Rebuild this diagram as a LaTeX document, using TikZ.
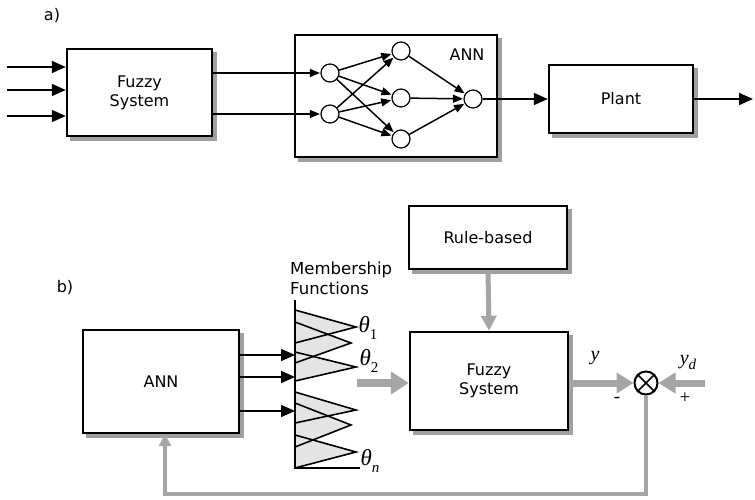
\documentclass[tikz,border=0pt]{standalone}
\usepackage[no-math]{fontspec}
\setmainfont{DejaVu Sans}
\newfontfamily\tms{Liberation Serif}
\usetikzlibrary{arrows.meta,calc}
\definecolor{arrgray}{RGB}{165,165,165}
\definecolor{mfgray}{RGB}{228,228,228}
\definecolor{shgray}{RGB}{160,160,160}
\pgfdeclarelayer{bg}
\pgfsetlayers{bg,main}
\newcommand{\boxshadow}[1]{%
  \begin{pgfonlayer}{bg}
    \fill[shgray] ($(#1.south west)+(4,4)$) rectangle ($(#1.north east)+(4,4)$);
  \end{pgfonlayer}}
\begin{document}
\begin{tikzpicture}[x=1pt,y=-1pt,
  box/.style={draw, line width=2.4pt, fill=white, inner sep=0pt, align=center,
    font=\fontsize{16}{19}\selectfont},
  neuron/.style={draw, circle, line width=1.2pt, fill=white, minimum size=18pt, inner sep=0pt},
  blk/.style={line width=1.8pt, -{Triangle[length=14pt,width=12pt]}},
  sml/.style={line width=1.5pt, shorten >=0.5pt, -{Triangle[length=10pt,width=8pt]}},
  garr/.style={draw=arrgray, line width=#1},
  lbl/.style={font=\fontsize{16}{19}\selectfont, inner sep=0pt},
  mathlbl/.style={font=\fontsize{23}{26}\selectfont\tms\itshape, inner sep=0pt},
  mfline/.style={line width=1.6pt, line join=miter}
]
\useasboundingbox (0,0) rectangle (755,500);

% ---------------- a) ----------------
\node[lbl] (la) at (52,15) {a)};
\node[box, minimum width=145pt, minimum height=87pt] (fuzzyA) at (139.5,92.5) {Fuzzy\\System};
\node[box, minimum width=202pt, minimum height=122pt] (annA) at (396,96) {};
\node[lbl] (annAlbl) at (467,55) {ANN};
\node[box, minimum width=144pt, minimum height=68pt] (plant) at (621,99) {Plant};
\boxshadow{fuzzyA}
\boxshadow{annA}
\boxshadow{plant}

\coordinate (x1) at (7,67);
\coordinate (x2) at (7,90);
\coordinate (x3) at (7,116);
\draw[blk] (x1) -- (x1 -| fuzzyA.west);
\draw[blk] (x2) -- (x2 -| fuzzyA.west);
\draw[blk] (x3) -- (x3 -| fuzzyA.west);

\node[neuron] (in1) at (330,73) {};
\node[neuron] (in2) at (330,114) {};
\node[neuron] (h1) at (401,51) {};
\node[neuron] (h2) at (401,98) {};
\node[neuron] (h3) at (401,139) {};
\node[neuron] (out) at (473,99) {};

\draw[sml] (fuzzyA.east |- in1) -- (in1);
\draw[sml] (fuzzyA.east |- in2) -- (in2);
\foreach \s in {in1,in2}{
  \foreach \t in {h1,h2,h3}{
    \draw[sml] (\s) -- (\t);
  }
}
\foreach \s in {h1,h2,h3}{
  \draw[sml] (\s) -- (out);
}
\draw[blk] (out) -- (out -| plant.west);
\coordinate (yout) at (753,99);
\draw[blk] (plant.east) -- (yout);

% ---------------- b) ----------------
\node[lbl] (lb) at (65,287) {b)};
\node[box, minimum width=156pt, minimum height=103pt] (annB) at (161,381.5) {ANN};
\node[box, minimum width=158pt, minimum height=63pt] (rule) at (488,237.5) {Rule-based};
\node[box, minimum width=158pt, minimum height=98pt] (fuzzyB) at (489,381) {Fuzzy\\System};
\boxshadow{annB}
\boxshadow{rule}
\boxshadow{fuzzyB}

\node[lbl, align=left, anchor=west, font=\fontsize{16.5}{20}\selectfont] (mflbl) at (290,278) {Membership\\Functions};

% membership functions
\foreach \a/\b/\c/\d in {310/327/343/356, 322/343/363/351, 352/367/381/356,
                         392/410/423/356, 403/425/447/351, 435/452/468/356}{
  \fill[mfgray] (295,\a) -- (\d,\b) -- (295,\c) -- cycle;
}
\foreach \a/\b/\c/\d in {310/327/343/356, 322/343/363/351, 352/367/381/356,
                         392/410/423/356, 403/425/447/351, 435/452/468/356}{
  \draw[mfline] (295,\a) -- (\d,\b) -- (295,\c);
}
\coordinate (axtop) at (295,300);
\coordinate (axorg) at (295,468);
\coordinate (axend) at (360,468);
\draw[line width=2pt] (axtop) -- (axorg) -- (axend);

\node[mathlbl] (th1) at (368,328) {θ\raisebox{-0.3em}{\fontsize{15}{15}\selectfont\upshape 1}};
\node[mathlbl] (th2) at (369,361) {θ\raisebox{-0.3em}{\fontsize{15}{15}\selectfont\upshape 2}};
\node[mathlbl] (thn) at (370,461) {θ\raisebox{-0.3em}{\fontsize{15}{15}\selectfont n}};

\coordinate (m1) at (295,355);
\coordinate (m2) at (295,377);
\coordinate (m3) at (295,411);
\draw[blk] (m1 -| annB.east) -- (m1);
\draw[blk] (m2 -| annB.east) -- (m2);
\draw[blk] (m3 -| annB.east) -- (m3);

% gray arrows
\coordinate (thA) at (357,383);
\draw[garr=8pt, -{Triangle[length=18pt,width=22pt]}] (thA) -- (thA -| fuzzyB.west);
\draw[garr=5pt, -{Triangle[length=15pt,width=15pt]}] (rule.south) -- (fuzzyB.north);

\node[draw, circle, line width=2pt, minimum size=23pt, inner sep=0pt, fill=white] (sum) at (646,383) {};
\draw[line width=1.6pt] (sum.45) -- (sum.225) (sum.135) -- (sum.315);

\draw[garr=7pt, -{Triangle[length=17pt,width=20pt]}] (fuzzyB.east |- sum) -- (sum.west);
\coordinate (yd) at (705,383);
\draw[garr=7pt, -{Triangle[length=17pt,width=20pt]}] (yd) -- (sum.east);

\coordinate (fb) at (165,494);
\draw[garr=4pt, -{Triangle[length=12pt,width=12pt]}] (sum.south) |- (fb) -- (fb |- annB.south);

\node[mathlbl, font=\fontsize{20}{22}\selectfont\tms\itshape] (ylbl) at (595,358) {y};
\node[mathlbl, font=\fontsize{20}{22}\selectfont\tms\itshape] (ydlbl) at (688,362) {y\raisebox{-0.25em}{\fontsize{15}{15}\selectfont d}};
\node[font=\fontsize{19}{20}\selectfont\tms, inner sep=0pt] (minus) at (617,400) {-};
\node[font=\fontsize{19}{20}\selectfont\tms, inner sep=0pt] (plus) at (685,398) {+};
\end{tikzpicture}
\end{document}
